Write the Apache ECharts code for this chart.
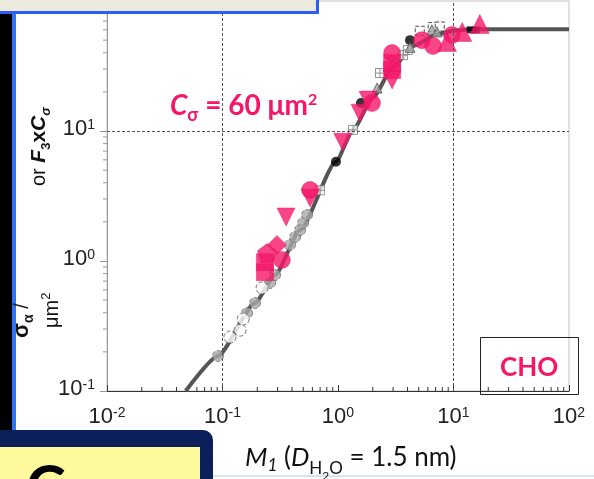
<!DOCTYPE html>
<html>
<head>
<meta charset="utf-8">
<script src="https://cdn.jsdelivr.net/npm/echarts@6/dist/echarts.min.js"></script>
<style>
  html, body { margin: 0; padding: 0; background: #fff; }
  #chart { width: 594px; height: 479px; }
</style>
</head>
<body>
<div id="chart"></div>
<script>
// Axis extents (log10 scales)
const xRange = [0.01, 100];
const yRange = [0.1, 100];

// Fitted cross-section curve: sigma vs M1, saturating at C_sigma = 60 um^2
const fitCurve = [[0.048, 0.1], [0.0914, 0.186], [0.191, 0.475], [0.285, 0.78], [0.469, 1.73],
  [0.96, 5.8], [1.35, 10.2], [2.0, 18], [3.0, 31], [4.5, 45], [7, 55], [10, 59], [14, 60.5], [100, 60.5]];

// Measured points by marker style
const greyCircles = [[0.0914, 0.186], [0.163, 0.398], [0.191, 0.475], [0.258, 0.678], [0.285, 0.78],
  [0.384, 1.33], [0.425, 1.53], [0.469, 1.73], [0.498, 1.96], [0.539, 2.26]];
const whiteCircles = [[0.116, 0.26], [0.142, 0.294], [0.151, 0.358], [0.22, 0.62]];
const blackDots = [[0.96, 5.8], [1.58, 16.4], [4.2, 50]];
const blackSquares = [[13.9, 60], [15.7, 60]];
const whiteSquares = [[0.70, 3.5], [1.35, 10.2], [2.31, 27.9], [3.66, 38.4], [4.03, 42]];
const dashedSquares = [[5.1, 59], [6.6, 63], [7.6, 63.7]];
const greyTriangles = [[2.18, 21.4], [4.2, 44], [6.5, 60], [7.2, 57.8]];

const pinkCircles = [[0.573, 3.52], [1.97, 16.4], [2.94, 39.8], [5.33, 50], [6.65, 45], [9.7, 54.7], [0.327, 1.02]];
const pinkUpTriangles = [[8.8, 48.4], [11.9, 57.8], [16.9, 66.5]];
const pinkDownTriangles = [[0.355, 2.18], [0.573, 3.05], [1.1, 8.2], [1.55, 13.7], [1.82, 17.3], [2.94, 24.7]];
const pinkSquares = [[0.233, 0.82], [0.233, 0.98], [2.94, 33.4], [2.94, 29.4]];
const pinkDiamonds = [[0.296, 1.33]];
const pinkPentagons = [[0.243, 1.15]];

// Reference lines
const xGuides = [0.1, 10];
const yGuides = [10];

const PINK = '#F5166A';
const ARIAL = "'Liberation Sans', Arial, sans-serif";
const SLIDE = "Lato, 'Open Sans', sans-serif";

// minor ticks at 2..9 x 10^k
function minorTicks(lo, hi) {
  const out = [];
  for (let e = Math.round(Math.log10(lo)); e < Math.round(Math.log10(hi)); e++) {
    for (let m = 2; m <= 9; m++) out.push(m * Math.pow(10, e));
  }
  return out;
}
const xMinor = minorTicks(xRange[0], xRange[1]);
const yMinor = minorTicks(yRange[0], yRange[1]);

const tickRich = {
  m: { fontSize: 22, fontFamily: ARIAL, color: '#222', lineHeight: 26, verticalAlign: 'top' },
  s: { fontSize: 14, fontFamily: ARIAL, color: '#222', lineHeight: 12, verticalAlign: 'top' }
};
function powLabel(v) {
  const e = Math.round(Math.log10(v));
  return '{m|10}{s|' + e + '}';
}

// Text runs with sub/superscripts laid out on a common baseline.
// parts: [text, weight/style, size, family, baselineShift]
const measureCtx = document.createElement('canvas').getContext('2d');
function textRun(parts, x, y, color, rotation, z) {
  const zz = z || 101;
  let cursor = 0;
  const children = parts.map(([t, st, size, fam, shift]) => {
    const font = (st ? st + ' ' : '') + size + 'px ' + fam;
    measureCtx.font = font;
    const w = measureCtx.measureText(t).width;
    const k = fam === SLIDE ? 0.36 : 0.33;
    const el = {
      type: 'text', z: zz, x: cursor, y: (shift || 0) - k * size,
      style: { text: t, font: font, fill: color, textAlign: 'left', align: 'left', textVerticalAlign: 'middle', verticalAlign: 'middle' }
    };
    cursor += w;
    return el;
  });
  return { type: 'group', x: x, y: y, rotation: rotation || 0, z: zz, children: children };
}

function scatter(data, symbol, size, itemStyle, extra) {
  return Object.assign({
    type: 'scatter', data: data, symbol: symbol, symbolSize: size,
    itemStyle: itemStyle, silent: true, z: 3
  }, extra || {});
}

const pinkStyle = { color: PINK, borderColor: '#e0105c', borderWidth: 0.5 };
const greyStyle = { color: '#a8a8a8', borderColor: '#6e6e6e', borderWidth: 1, borderType: 'dashed' };
const whiteStyle = { color: '#fff', borderColor: '#555', borderWidth: 1, borderType: 'dashed' };
const pentagon = 'path://M0,-10L9.5,-3.1L5.9,8.1L-5.9,8.1L-9.5,-3.1Z';
const crossSquare = 'path://M0,0H10V10H0Z M5,0V10 M0,5H10';
const READ_UP = Math.PI / 2;

const option = {
  animation: false,
  grid: { left: 107, right: 25, top: 1, bottom: 88, show: true, borderColor: '#c4c4c4', borderWidth: 1 },
  xAxis: {
    type: 'log', logBase: 10, min: xRange[0], max: xRange[1], splitNumber: 4,
    axisLine: { lineStyle: { color: '#333', width: 1 } },
    axisTick: { inside: true, length: 6, lineStyle: { color: '#333' } },
    splitLine: { show: false },
    axisLabel: { formatter: powLabel, rich: tickRich, margin: 15 }
  },
  yAxis: {
    type: 'log', logBase: 10, min: yRange[0], max: yRange[1], splitNumber: 3,
    axisLine: { lineStyle: { color: '#999', width: 1 } },
    axisTick: { inside: false, length: 7, lineStyle: { color: '#999' } },
    splitLine: { show: false },
    axisLabel: { formatter: powLabel, rich: tickRich, margin: 12, showMaxLabel: false }
  },
  series: [
    {
      type: 'line', data: fitCurve, showSymbol: false, smooth: 0.2, smoothMonotone: 'x', silent: true, z: 2,
      lineStyle: { color: '#555', width: 4 },
      markLine: {
        silent: true, symbol: 'none', label: { show: false },
        lineStyle: { color: '#555', width: 1, type: [3, 2] },
        data: xGuides.map(v => ({ xAxis: v })).concat(yGuides.map(v => ({ yAxis: v })))
      }
    },
    {
      type: 'custom', coordinateSystem: 'cartesian2d', silent: true, clip: false, z: 1,
      data: xMinor.map(v => [v, yRange[0]]),
      renderItem: (params, api) => {
        const p = api.coord([api.value(0), api.value(1)]);
        return { type: 'line', shape: { x1: p[0], y1: p[1], x2: p[0], y2: p[1] - 4 }, style: { stroke: '#333', lineWidth: 1 } };
      }
    },
    {
      type: 'custom', coordinateSystem: 'cartesian2d', silent: true, clip: false, z: 1,
      data: yMinor.map(v => [xRange[0], v]),
      renderItem: (params, api) => {
        const p = api.coord([api.value(0), api.value(1)]);
        return { type: 'line', shape: { x1: p[0], y1: p[1], x2: p[0] - 4, y2: p[1] }, style: { stroke: '#999', lineWidth: 1 } };
      }
    },
    scatter(greyCircles, 'circle', 11, greyStyle),
    scatter(whiteCircles, 'circle', 12, whiteStyle),
    scatter(blackDots, 'circle', 10, { color: '#000' }),
    scatter(blackSquares, 'rect', 7, { color: '#000' }),
    scatter(whiteSquares, crossSquare, 9, { color: '#fff', borderColor: '#777', borderWidth: 1 }),
    scatter(dashedSquares, 'rect', 9, { color: '#fff', borderColor: '#222', borderWidth: 1, borderType: 'dashed' }),
    scatter(greyTriangles, 'triangle', 10, { color: '#a0a0a0', borderColor: '#555', borderWidth: 1 }),
    scatter(pinkSquares, 'rect', 17, pinkStyle, { z: 4 }),
    scatter(pinkPentagons, pentagon, 19, pinkStyle, { z: 4 }),
    scatter(pinkDiamonds, 'diamond', 19, pinkStyle, { z: 4 }),
    scatter(pinkDownTriangles, 'triangle', 18, pinkStyle, { z: 4, symbolRotate: 180 }),
    scatter(pinkCircles, 'circle', 17, pinkStyle, { z: 4 }),
    scatter(pinkUpTriangles, 'triangle', 19, pinkStyle, { z: 4 })
  ],
  graphic: [
    // slide frame pieces around the plot
    { type: 'rect', z: 100, shape: { x: 0, y: 0, width: 318, height: 12 }, style: { fill: '#ede9dc' } },
    { type: 'rect', z: 101, shape: { x: 0, y: 11, width: 319, height: 3 }, style: { fill: '#2b5ff7' } },
    { type: 'rect', z: 101, shape: { x: 316, y: 0, width: 3, height: 14 }, style: { fill: '#2b5ff7' } },
    { type: 'rect', z: 100, shape: { x: 0, y: 14, width: 12, height: 416 }, style: { fill: '#000' } },
    { type: 'rect', z: 100, shape: { x: 12, y: 14, width: 4, height: 416 }, style: { fill: '#2f74f5' } },
    { type: 'rect', z: 100, shape: { x: -12, y: 430, width: 225, height: 60, r: [0, 10, 0, 0] }, style: { fill: '#0b1f5b' } },
    { type: 'rect', z: 101, shape: { x: 0, y: 447, width: 200, height: 40 }, style: { fill: '#fdf99d' } },
    textRun([['C', 'bold', 60, SLIDE, 0]], 26, 510, '#000', 0, 103),
    { type: 'rect', z: 100, shape: { x: 213, y: 475, width: 381, height: 2 }, style: { fill: '#d5e5f7' } },
    // CHO tag
    { type: 'rect', z: 100, shape: { x: 480.5, y: 337.5, width: 98, height: 57 }, style: { fill: 'none', stroke: '#222', lineWidth: 1 } },
    textRun([['CHO', 'bold', 26, SLIDE, 0]], 500, 377, PINK),
    // C_sigma annotation
    textRun([
      ['C', 'italic bold', 28, SLIDE, 0],
      ['σ', 'bold', 18, SLIDE, 6],
      [' = 60 μm', 'bold', 28, SLIDE, 0],
      ['2', 'bold', 16, SLIDE, -10]
    ], 170, 116, PINK),
    // x axis title
    textRun([
      ['M', 'italic', 26, SLIDE, 0],
      ['1', 'italic', 17, SLIDE, 5],
      [' (', '', 26, SLIDE, 0],
      ['D', 'italic', 26, SLIDE, 0],
      ['H', '', 17, SLIDE, 8],
      ['2', '', 12, SLIDE, 13],
      ['O', '', 17, SLIDE, 8],
      [' = 1.5 nm)', '', 26, SLIDE, 0]
    ], 245, 467, '#111'),
    // y axis title pieces, reading upward
    textRun([
      ['σ', 'bold', 22, ARIAL, 0],
      ['α', 'bold', 14, ARIAL, 5],
      [' /', '', 20, ARIAL, 0]
    ], 29, 338, '#111', READ_UP),
    textRun([
      ['μm', '', 20, ARIAL, 0],
      ['2', '', 13, ARIAL, -8]
    ], 59, 328, '#111', READ_UP),
    textRun([
      ['or ', '', 20, ARIAL, 0],
      ['F', 'italic bold', 21, ARIAL, 0],
      ['3', 'bold', 13, ARIAL, 5],
      ['x', 'bold', 21, ARIAL, 0],
      ['C', 'italic bold', 21, ARIAL, 0],
      ['σ', 'italic bold', 13, ARIAL, 5]
    ], 46, 186, '#111', READ_UP)
  ]
};

const chart = echarts.init(document.getElementById('chart'), null, { renderer: 'canvas' });
chart.setOption(option);
</script>
</body>
</html>
